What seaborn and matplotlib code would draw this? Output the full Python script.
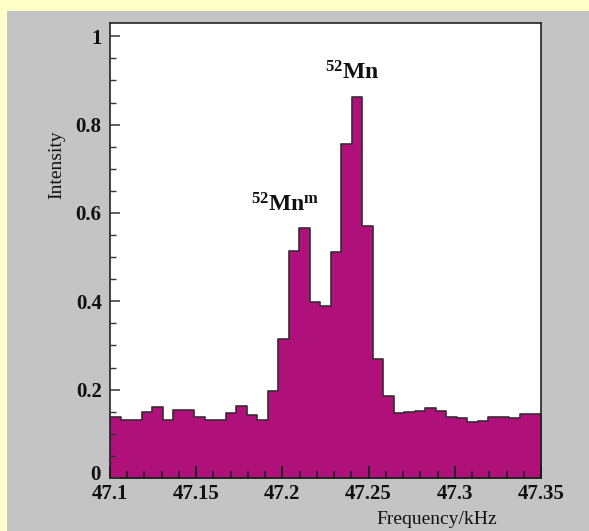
import numpy as np
import pandas as pd
import matplotlib
matplotlib.use("Agg")
import matplotlib.pyplot as plt
import matplotlib.transforms as mtransforms
import seaborn as sns
from matplotlib.ticker import MultipleLocator, FixedLocator
from matplotlib.patches import Rectangle

# ---- data ----
freq_start = 47.1
freq_stop = 47.35
n_bins = 41
intensity = [0.139, 0.132, 0.132, 0.149, 0.161, 0.132, 0.155, 0.153, 0.139, 0.132,
             0.132, 0.147, 0.164, 0.142, 0.132, 0.197, 0.314, 0.514, 0.565, 0.398,
             0.389, 0.511, 0.755, 0.862, 0.571, 0.270, 0.186, 0.147, 0.149, 0.151,
             0.158, 0.151, 0.139, 0.136, 0.127, 0.130, 0.138, 0.137, 0.136, 0.144,
             0.146]
x_ticks = [47.1, 47.15, 47.2, 47.25, 47.3, 47.35]
x_ticklabels = ["47.1", "47.15", "47.2", "47.25", "47.3", "47.35"]
y_ticks = [0, 0.2, 0.4, 0.6, 0.8, 1.0]
y_ticklabels = ["0", "0.2", "0.4", "0.6", "0.8", "1"]
peak_labels = [r"$^{52}\mathrm{Mn}^{\mathrm{m}}$", r"$^{52}\mathrm{Mn}$"]
peak_pos = [(47.1816, 0.603), (47.2245, 0.901)]

edges = np.linspace(freq_start, freq_stop, n_bins + 1)
centers = (edges[:-1] + edges[1:]) / 2
df = pd.DataFrame({"Frequency": centers, "Intensity": intensity})

sns.set_theme(style="white")
plt.rcParams["font.family"] = ["Liberation Serif", "DejaVu Serif"]
plt.rcParams["mathtext.fontset"] = "custom"
plt.rcParams["mathtext.rm"] = "Liberation Serif:bold"
plt.rcParams["mathtext.it"] = "Liberation Serif:bold"
plt.rcParams["mathtext.bf"] = "Liberation Serif:bold"

W, H = 589, 531
fig = plt.figure(figsize=(W / 100, H / 100), dpi=100)
fig.patch.set_facecolor("#FFFFC8")
fig.patches.append(Rectangle((7 / W, 0), 1 - 7 / W, 1 - 11 / H,
                             transform=fig.transFigure, facecolor="#C4C4C4",
                             edgecolor="none", zorder=-10))

ax = fig.add_axes([110 / W, (H - 478) / H, 431 / W, (478 - 23) / H])
ax.set_facecolor("white")
ax.set_zorder(1)

sns.histplot(data=df, x="Frequency", weights="Intensity", bins=edges.tolist(),
             element="step", fill=True, color="#B0107A", alpha=1,
             linewidth=1.2, ax=ax)
for coll in ax.collections:
    coll.set_facecolor("#B0107A")
    coll.set_edgecolor("#3a2a35")
    coll.set_linewidth(1.2)
    coll.set_alpha(1)
    coll.set_zorder(1)
for ln in ax.lines:
    ln.set_color("#3a2a35")
ax.set_axisbelow(False)

ax.set_xlim(freq_start, freq_stop)
ax.set_ylim(0, 1.03)
ax.set_xlabel("")
ax.set_ylabel("")

ax.xaxis.set_major_locator(FixedLocator(x_ticks))
ax.set_xticklabels(x_ticklabels)
ax.xaxis.set_minor_locator(MultipleLocator(0.01))
ax.yaxis.set_major_locator(FixedLocator(y_ticks))
ax.set_yticklabels(y_ticklabels)
ax.yaxis.set_minor_locator(MultipleLocator(0.05))

ax.tick_params(axis="x", which="major", direction="in", length=9, width=1.3,
               color="#1a1a1a", pad=4, labelsize=15, bottom=True, top=False)
ax.tick_params(axis="x", which="minor", direction="in", length=5, width=1.1,
               color="#1a1a1a", bottom=True, top=False)
ax.tick_params(axis="y", which="major", direction="in", length=7, width=1.1,
               color="#333333", pad=6, labelsize=15, left=True, right=False)
ax.tick_params(axis="y", which="minor", direction="in", length=4, width=1,
               color="#333333", left=True, right=False)
for lab in ax.get_xticklabels() + ax.get_yticklabels():
    lab.set_fontweight("bold")
    lab.set_color("#111111")

# the "0" label sits slightly above the corner in the reference
zero_lab = ax.get_yticklabels()[0]
zero_lab.set_transform(zero_lab.get_transform() +
                       mtransforms.ScaledTranslation(-1 / 100, 5 / 100,
                                                     fig.dpi_scale_trans))

for sp in ax.spines.values():
    sp.set_visible(True)
    sp.set_color("#222222")
    sp.set_linewidth(1.2)

for txt, (px, py) in zip(peak_labels, peak_pos):
    ax.text(px, py, txt, fontsize=17, ha="left", va="baseline", color="#111111")

fig.text(57 / W, 1 - 165 / H, "Intensity", rotation=90, ha="center",
         va="center", fontsize=14, color="#111111")
fig.text(437 / W, 1 - 520 / H, "Frequency/kHz", ha="center", va="center",
         fontsize=14, color="#111111")

fig.savefig("out.png", dpi=100, facecolor=fig.get_facecolor())
